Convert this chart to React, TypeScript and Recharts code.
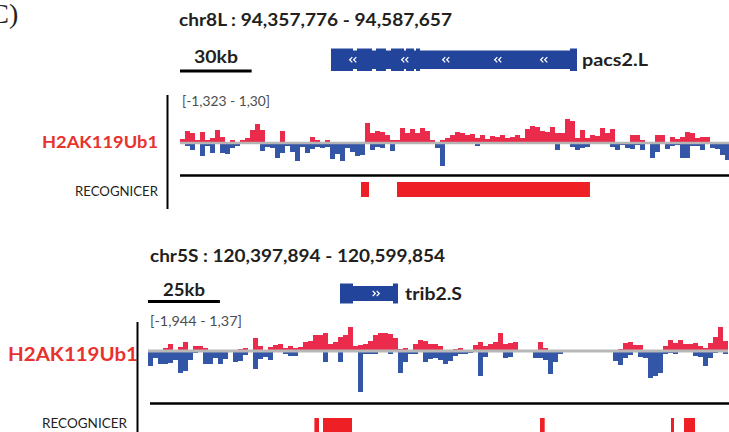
import React from 'react';
import { BarChart, Bar, XAxis, YAxis, ReferenceLine, ComposedChart, ReferenceArea, Scatter } from 'recharts';

// ---------- Panel 1 (chr8L) ----------
const P1_REGION: [number, number] = [94357776, 94587657];
const P1_TITLE = 'chr8L : 94,357,776 - 94,587,657';
const P1_SCALE_BP = 30000;
const P1_SCALE_LABEL = '30kb';
const P1_GENE_NAME = 'pacs2.L';
const P1_GENE_BODY: [number, number] = [94421000, 94524000];
const P1_GENE_EXONS: [number, number][] = [
  [94421000, 94430211], [94431886, 94438166], [94439841, 94444028],
  [94446122, 94451565], [94452402, 94455752], [94456589, 94458264], [94521069, 94524000],
];
const P1_GENE_ARROWS = [94430211, 94451984, 94469150, 94490923, 94510183];
const P1_RANGE_LABEL = '[-1,323 - 1,30]';
const P1_PEAKS: [number, number][] = [[94433561, 94436910], [94448634, 94529443]];
const P1_POS = [
  4, 12, 10, 3, 11, 3, 5, 13, 6, 0,
  3, 0, 3, 5, 13, 19, 13, 0, 0, 0,
  12, 0, 0, 0, 0, 0, 6, 3, 0, 3,
  0, 0, 0, 0, 0, 0, 0, 20, 10, 12,
  11, 8, 3, 3, 15, 10, 14, 10, 15, 12,
  3, 0, 3, 5, 8, 11, 10, 8, 9, 5,
  8, 4, 7, 6, 8, 5, 6, 8, 5, 14,
  17, 16, 12, 11, 16, 10, 10, 24, 22, 5,
  13, 5, 8, 7, 15, 10, 14, 0, 0, 0,
  8, 8, 3, 0, 0, 8, 8, 0, 6, 4,
  6, 11, 10, 5, 6, 6, 0, 0, 0, 0,
];
const P1_NEG = [
  0, 3, 7, 0, 13, 3, 10, 0, 10, 11,
  5, 3, 0, 0, 0, 0, 8, 4, 5, 15,
  10, 3, 9, 18, 4, 10, 6, 4, 5, 4,
  16, 11, 18, 5, 9, 13, 12, 0, 7, 4,
  5, 0, 8, 0, 0, 0, 0, 0, 0, 0,
  0, 5, 23, 0, 0, 0, 0, 0, 0, 3,
  0, 0, 0, 0, 0, 0, 0, 0, 0, 0,
  0, 0, 0, 0, 0, 7, 0, 0, 4, 7,
  5, 4, 0, 0, 0, 0, 4, 7, 2, 5,
  6, 2, 7, 0, 15, 9, 0, 6, 3, 2,
  15, 15, 3, 3, 7, 0, 5, 6, 12, 17,
];

// ---------- Panel 2 (chr5S) ----------
const P2_REGION: [number, number] = [120397894, 120599854];
const P2_TITLE = 'chr5S : 120,397,894 - 120,599,854';
const P2_SCALE_BP = 25000;
const P2_SCALE_LABEL = '25kb';
const P2_GENE_NAME = 'trib2.S';
const P2_GENE_BODY: [number, number] = [120464633, 120484794];
const P2_GENE_EXONS: [number, number][] = [[120464633, 120469152], [120483056, 120484794]];
const P2_GENE_ARROWS = [120477147];
const P2_RANGE_LABEL = '[-1,944 - 1,37]';
const P2_PEAKS: [number, number][] = [
  [120455735, 120457334], [120458724, 120468804], [120534153, 120535787],
  [120579689, 120580732], [120584208, 120588031],
];
const P2_POS = [
  0, 0, 0, 3, 7, 0, 4, 9, 0, 5,
  5, 3, 0, 0, 0, 0, 0, 0, 2, 3,
  0, 13, 5, 0, 4, 6, 7, 3, 5, 3,
  4, 9, 10, 16, 16, 18, 7, 9, 14, 16,
  24, 5, 6, 7, 10, 16, 18, 18, 17, 13,
  2, 3, 0, 7, 11, 10, 7, 7, 5, 0,
  0, 2, 3, 0, 0, 6, 9, 5, 7, 9,
  18, 7, 8, 9, 0, 0, 0, 0, 9, 3,
  0, 0, 0, 0, 0, 0, 0, 0, 0, 0,
  0, 0, 0, 0, 2, 8, 9, 6, 6, 0,
  0, 0, 0, 5, 11, 8, 11, 7, 7, 8,
  5, 3, 8, 14, 24, 10,
];
const P2_NEG = [
  15, 7, 13, 13, 12, 9, 22, 20, 9, 2,
  0, 13, 13, 7, 13, 8, 0, 11, 10, 4,
  0, 18, 8, 6, 9, 0, 0, 3, 5, 5,
  1, 1, 1, 0, 0, 11, 0, 0, 11, 0,
  0, 0, 41, 3, 3, 3, 0, 0, 3, 0,
  22, 11, 3, 3, 0, 11, 8, 7, 9, 13,
  10, 5, 3, 3, 2, 0, 25, 6, 0, 0,
  0, 7, 6, 1, 0, 0, 0, 7, 7, 9,
  23, 11, 3, 1, 0, 0, 0, 0, 0, 0,
  0, 0, 0, 10, 14, 7, 4, 0, 6, 7,
  27, 25, 22, 3, 2, 3, 0, 0, 0, 5,
  6, 15, 7, 2, 0, 3,
];

const TRACK_NAME = 'H2AK119Ub1';
const PEAK_TRACK_NAME = 'RECOGNICER';

const RED = '#ea2b4b';
const BLUE = '#3456a6';
const GENE_BLUE = '#22449a';
const PEAK_RED = '#ee1f25';
const LABEL_RED = '#e8322e';
const INK = '#231f20';
const FONT = 'Lato, "Open Sans", "Liberation Sans", sans-serif';
const M = { top: 0, right: 0, bottom: 0, left: 0 };

function Signal(props: any) {
  const { pos, neg, left, top, width, height, domain, gray, grayWidth } = props;
  const data = pos.map((p: number, i: number) => ({ i, pos: p, neg: -neg[i] }));
  return (
    <div style={{ position: 'absolute', left, top }}>
      <BarChart width={width} height={height} data={data} margin={M} barCategoryGap={0} barGap={0} stackOffset="sign">
        <XAxis dataKey="i" hide />
        <YAxis type="number" hide domain={domain} allowDataOverflow />
        <Bar dataKey="pos" stackId="s" fill={RED} isAnimationActive={false} />
        <Bar dataKey="neg" stackId="s" fill={BLUE} isAnimationActive={false} />
        <ReferenceLine y={0} stroke={gray} strokeWidth={grayWidth} />
      </BarChart>
    </div>
  );
}

function chevronShape(dir: 'left' | 'right') {
  return (props: any) => {
    const { cx, cy } = props;
    const s = dir === 'left' ? 1 : -1;
    const one = (ox: number) =>
      `${cx + ox + s * 1.3},${cy - 2.6} ${cx + ox - s * 1.3},${cy} ${cx + ox + s * 1.3},${cy + 2.6}`;
    return (
      <g>
        <polyline points={one(-2)} fill="none" stroke="#ffffff" strokeWidth={1.3} />
        <polyline points={one(2)} fill="none" stroke="#ffffff" strokeWidth={1.3} />
      </g>
    );
  };
}

function GeneTrack(props: any) {
  const { region, left, top, width, height, scaleBp, scaleY, body, bodyY, exons, exonY, arrows, arrowDir } = props;
  const pts = arrows.map((x: number) => ({ x, y: (bodyY[0] + bodyY[1]) / 2 }));
  return (
    <div style={{ position: 'absolute', left, top }}>
      <ComposedChart width={width} height={height} data={pts} margin={M}>
        <XAxis type="number" dataKey="x" domain={region} hide allowDataOverflow />
        <YAxis type="number" dataKey="y" domain={[0, height]} reversed hide allowDataOverflow />
        <ReferenceArea x1={region[0]} x2={region[0] + scaleBp} y1={scaleY[0]} y2={scaleY[1]} fill="#000" fillOpacity={1} />
        <ReferenceArea x1={body[0]} x2={body[1]} y1={bodyY[0]} y2={bodyY[1]} fill={GENE_BLUE} fillOpacity={1} />
        {exons.map((e: [number, number], k: number) => (
          <ReferenceArea key={k} x1={e[0]} x2={e[1]} y1={exonY[0]} y2={exonY[1]} fill={GENE_BLUE} fillOpacity={1} />
        ))}
        <Scatter data={pts} dataKey="y" shape={chevronShape(arrowDir)} isAnimationActive={false} />
      </ComposedChart>
    </div>
  );
}

function PeakTrack(props: any) {
  const { region, left, top, width, height, peaks } = props;
  return (
    <div style={{ position: 'absolute', left, top }}>
      <ComposedChart width={width} height={height} data={[{ x: region[0], y: 0 }]} margin={M}>
        <XAxis type="number" dataKey="x" domain={region} hide allowDataOverflow />
        <YAxis type="number" dataKey="y" domain={[0, 1]} hide allowDataOverflow />
        {peaks.map((p: [number, number], k: number) => (
          <ReferenceArea key={k} x1={p[0]} x2={p[1]} y1={0} y2={1} fill={PEAK_RED} fillOpacity={1} />
        ))}
      </ComposedChart>
    </div>
  );
}

function T(props: any) {
  const { x, y, size, w, bold, fill, children, family } = props;
  return (
    <text x={x} y={y} fontSize={size} fontWeight={bold ? 700 : 400} fill={fill || INK}
      fontFamily={family || FONT} textLength={w} lengthAdjust="spacingAndGlyphs">{children}</text>
  );
}

export default function App() {
  return (
    <div style={{ position: 'fixed', left: 0, top: 0, width: 729, height: 432, overflow: 'hidden', background: '#fff' }}>
      <svg width={729} height={432} style={{ position: 'absolute', left: 0, top: 0 }}>
        <text x={-19} y={23} fontSize={28} fontFamily='"Liberation Serif", "Times New Roman", serif' fill={INK}>(C)</text>
        {/* panel 1 */}
        <T x={179} y={26} size={16.5} w={273} bold>{P1_TITLE}</T>
        <T x={194} y={63} size={16.5} w={44} bold>{P1_SCALE_LABEL}</T>
        <T x={582} y={66} size={16.5} w={66} bold>{P1_GENE_NAME}</T>
        <T x={182} y={106} size={12.5} w={88} fill="#4d4d4d">{P1_RANGE_LABEL}</T>
        <T x={42} y={148} size={17} w={116} bold fill={LABEL_RED}>{TRACK_NAME}</T>
        <T x={75} y={196} size={12.5} w={83}>{PEAK_TRACK_NAME}</T>
        <line x1={167.5} y1={95} x2={167.5} y2={209} stroke="#000" strokeWidth={2} />
        <line x1={180} y1={175.5} x2={729} y2={175.5} stroke="#000" strokeWidth={2.5} />
        {/* panel 2 */}
        <T x={150} y={262} size={16.5} w={295} bold>{P2_TITLE}</T>
        <T x={163} y={296} size={16.5} w={42} bold>{P2_SCALE_LABEL}</T>
        <T x={405} y={300} size={16.5} w={57} bold>{P2_GENE_NAME}</T>
        <T x={150} y={326} size={12.5} w={92} fill="#4d4d4d">{P2_RANGE_LABEL}</T>
        <T x={8} y={361} size={19} w={130} bold fill={LABEL_RED}>{TRACK_NAME}</T>
        <T x={42} y={428} size={12.5} w={85}>{PEAK_TRACK_NAME}</T>
        <line x1={137.5} y1={322} x2={137.5} y2={432} stroke="#000" strokeWidth={2} />
        <line x1={150} y1={403.5} x2={729} y2={403.5} stroke="#000" strokeWidth={2.5} />
      </svg>

      <GeneTrack region={P1_REGION} left={180} top={45} width={549} height={30}
        scaleBp={P1_SCALE_BP} scaleY={[24.5, 27.5]} body={P1_GENE_BODY} bodyY={[5.5, 24]}
        exons={P1_GENE_EXONS} exonY={[3.5, 26]} arrows={P1_GENE_ARROWS} arrowDir="left" />
      <Signal pos={P1_POS} neg={P1_NEG} left={180} top={112.7} width={550} height={60}
        domain={[-30, 30]} gray="#b5b5b5" grayWidth={2.5} />
      <PeakTrack region={P1_REGION} left={180} top={182} width={549} height={15} peaks={P1_PEAKS} />

      <GeneTrack region={P2_REGION} left={148} top={280} width={581} height={25}
        scaleBp={P2_SCALE_BP} scaleY={[20, 23]} body={P2_GENE_BODY} bodyY={[6, 21]}
        exons={P2_GENE_EXONS} exonY={[3.5, 23.5]} arrows={P2_GENE_ARROWS} arrowDir="right" />
      <Signal pos={P2_POS} neg={P2_NEG} left={148} top={320.5} width={580} height={75}
        domain={[-45, 30]} gray="#b8b8b8" grayWidth={3} />
      <PeakTrack region={P2_REGION} left={148} top={418} width={581} height={14} peaks={P2_PEAKS} />
    </div>
  );
}
